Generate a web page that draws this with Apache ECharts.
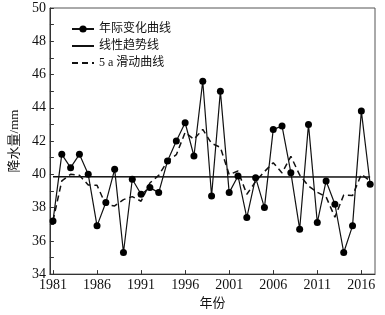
<!DOCTYPE html>
<html>
<head>
<meta charset="utf-8">
<script src="https://cdn.jsdelivr.net/npm/echarts@6/dist/echarts.min.js"></script>
<style>
html, body { margin: 0; padding: 0; background: #fff; }
#main { width: 385px; height: 315px; }
</style>
</head>
<body>
<div id="main"></div>
<script>
// 年份
var years = [1981, 1982, 1983, 1984, 1985, 1986, 1987, 1988, 1989, 1990,
	1991, 1992, 1993, 1994, 1995, 1996, 1997, 1998, 1999, 2000,
	2001, 2002, 2003, 2004, 2005, 2006, 2007, 2008, 2009, 2010,
	2011, 2012, 2013, 2014, 2015, 2016, 2017];
// 年际变化（降水量 mm）
var rainfall = [37.2, 41.2, 40.4, 41.2, 40.0, 36.9, 38.3, 40.3, 35.3, 39.7,
	38.8, 39.2, 38.9, 40.8, 42.0, 43.1, 41.1, 45.6, 38.7, 45.0,
	38.9, 39.9, 37.4, 39.8, 38.0, 42.7, 42.9, 40.1, 36.7, 43.0,
	37.1, 39.6, 38.2, 35.3, 36.9, 43.8, 39.4];
// 5 a 滑动曲线
var movingAvg = [37.2, 39.6, 40.0, 39.94, 39.36, 39.34, 38.16, 38.1, 38.48, 38.66,
	38.38, 39.48, 39.94, 40.8, 41.18, 42.52, 42.1, 42.7, 41.86, 41.62,
	39.98, 40.2, 38.8, 39.56, 40.16, 40.7, 40.08, 41.08, 39.96, 39.3,
	38.92, 38.64, 37.42, 38.76, 38.72, 40.0, 39.6];
// 线性趋势线 (起点, 终点)
var trendYears = [1981, 2017];
var trendValues = [39.86, 39.84];
// 刻度
var xTicks = [1981, 1986, 1991, 1996, 2001, 2006, 2011, 2016];

function pairs(xs, ys) {
	var out = [];
	for (var i = 0; i < xs.length; i++) {
		out.push([xs[i], ys[i]]);
	}
	return out;
}

var serif = '"Liberation Serif", "Noto Sans CJK SC", serif';
var noMarker = { color: 'rgba(0,0,0,0)', opacity: 0, borderWidth: 0 };
var myChart = echarts.init(document.getElementById('main'));
var option = {
	animation: false,
	grid: {
		left: 45,
		right: 10,
		top: 8,
		bottom: 40,
		show: true,
		borderColor: '#555',
		borderWidth: 1
	},
	legend: {
		orient: 'vertical',
		left: 66,
		top: 18,
		itemWidth: 22,
		itemHeight: 9,
		itemGap: 5,
		textStyle: { fontFamily: serif, fontSize: 12, color: '#111' },
		data: [
			{ name: '年际变化曲线' },
			{ name: '线性趋势线', itemStyle: noMarker },
			{ name: '5 a 滑动曲线', itemStyle: noMarker }
		]
	},
	xAxis: {
		type: 'value',
		min: 1980.65,
		max: 2017.55,
		name: '年份',
		nameLocation: 'middle',
		nameGap: 21,
		nameTextStyle: { fontFamily: serif, fontSize: 13, color: '#111' },
		axisLine: { lineStyle: { color: '#333', width: 1 } },
		axisTick: { inside: true, length: 4, customValues: xTicks, lineStyle: { color: '#333' } },
		axisLabel: {
			customValues: xTicks,
			margin: 4,
			fontFamily: serif,
			fontSize: 14,
			color: '#111',
			formatter: function (v) { return String(v); }
		},
		splitLine: { show: false }
	},
	yAxis: {
		type: 'value',
		min: 34,
		max: 50,
		interval: 2,
		name: '降水量/mm',
		nameLocation: 'middle',
		nameGap: 28,
		nameTextStyle: { fontFamily: serif, fontSize: 13, color: '#111' },
		axisLine: { show: true, lineStyle: { color: '#333', width: 1 } },
		axisTick: { inside: true, length: 4, lineStyle: { color: '#333' } },
		minorTick: { show: true, splitNumber: 2, length: 4, lineStyle: { color: '#333' } },
		axisLabel: { margin: 4, fontFamily: serif, fontSize: 14, color: '#111' },
		splitLine: { show: false }
	},
	series: [{
		name: '年际变化曲线',
		type: 'line',
		data: pairs(years, rainfall),
		symbol: 'circle',
		symbolSize: 7,
		itemStyle: { color: '#000' },
		lineStyle: { color: '#111', width: 1.2 },
		z: 3
	}, {
		name: '线性趋势线',
		type: 'line',
		data: pairs(trendYears, trendValues),
		symbol: 'none',
		itemStyle: { color: '#000' },
		lineStyle: { color: '#111', width: 1.5 },
		z: 2
	}, {
		name: '5 a 滑动曲线',
		type: 'line',
		data: pairs(years, movingAvg),
		symbol: 'none',
		itemStyle: { color: '#000' },
		lineStyle: { color: '#111', width: 1.5, type: [6, 4] },
		z: 2
	}]
};
myChart.setOption(option);
</script>
</body>
</html>
